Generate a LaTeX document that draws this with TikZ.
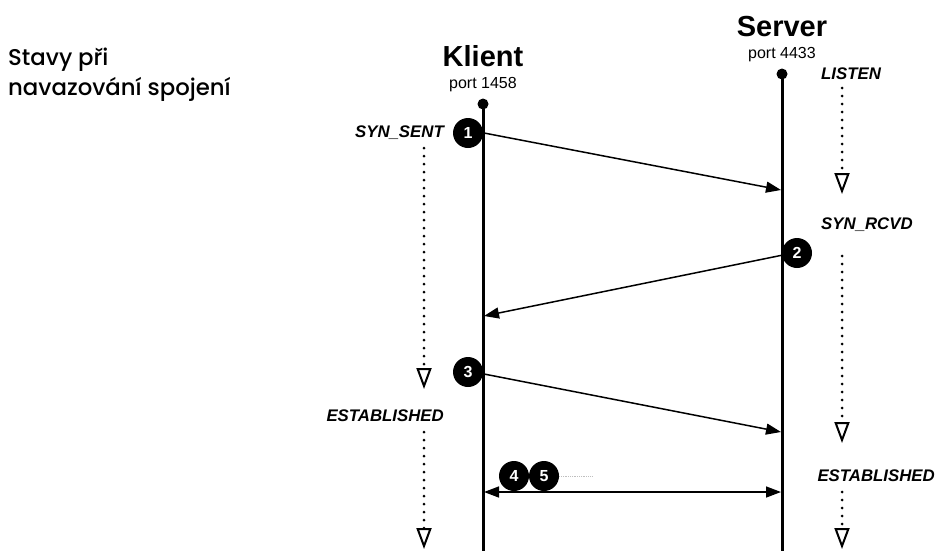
\documentclass[tikz,border=0pt]{standalone}
\usepackage{fontspec}
\setmainfont{Liberation Sans}
\newfontfamily\titlefont{Poppins}[UprightFont=* Medium]
\usetikzlibrary{
    arrows.meta,
    positioning
}

\begin{document}
\begin{tikzpicture}[
        x=1pt, y=-1pt,
        party/.style={
            font=\bfseries\fontsize{29}{30}\selectfont,
            inner sep=0pt
        },
        port/.style={
            font=\fontsize{16}{17}\selectfont,
            inner sep=0pt
        },
        state/.style={
            font=\bfseries\itshape\fontsize{16.8}{18}\selectfont,
            inner sep=0pt
        },
        badge/.style={
            circle,
            fill=black,
            text=white,
            minimum size=30pt,
            inner sep=0pt,
            font=\bfseries\fontsize{16}{16}\selectfont
        },
        lifeline/.style={
            line width=3pt
        },
        msg/.style={
            line width=1.5pt,
            -{Triangle[length=15pt,width=11pt]}
        },
        flow/.style={
            line width=3pt,
            line cap=round,
            dash pattern=on 0pt off 8pt,
            -{Triangle[open,length=21pt,width=15pt,line width=2pt,fill=white]}
        }
    ]

    \useasboundingbox (0,0) rectangle (936,550);

    % heading
    \node[anchor=north west, align=left, inner sep=0pt,
          font=\titlefont\fontsize{22.8}{30}\selectfont] (title) at (8,48)
        {Stavy při\\navazování spojení};

    % the two parties
    \node[party] (klient) at (483,56) {Klient};
    \node[port, below=10pt of klient] (kport) {port 1458};
    \node[party] (server) at (782,27) {Server};
    \node[port, below=10pt of server] (sport) {port 4433};

    \fill (483,104) circle (5.5pt) coordinate (ktop);
    \fill (782,74) circle (5.5pt) coordinate (stop);
    \coordinate (kbot) at (483,551);
    \coordinate (sbot) at (782,551);
    \draw[lifeline] (ktop) -- (kbot);
    \draw[lifeline] (stop) -- (sbot);

    % states
    \node[state, anchor=east] (synsent) at (444,133) {SYN\_SENT};
    \node[state, anchor=east] (kest) at (444,416) {ESTABLISHED};
    \node[state, anchor=west] (listen) at (821,74) {LISTEN};
    \node[state, anchor=west] (synrcvd) at (821,225) {SYN\_RCVD};
    \node[state, anchor=east] (sest) at (935,476) {ESTABLISHED};

    \coordinate (kf1) at (424,148);
    \coordinate (kf2) at (424,389);
    \coordinate (kf3) at (424,432);
    \coordinate (kf4) at (424,549);
    \coordinate (sf1) at (842,88);
    \coordinate (sf2) at (842,194);
    \coordinate (sf3) at (842,256);
    \coordinate (sf4) at (842,443);
    \coordinate (sf5) at (842,492);
    \coordinate (sf6) at (842,549);

    \draw[flow] (kf1) -- (kf2);
    \draw[flow] (kf3) -- (kf4);
    \draw[flow] (sf1) -- (sf2);
    \draw[flow] (sf3) -- (sf4);
    \draw[flow] (sf5) -- (sf6);

    % segments
    \node[badge] (b1) at (468,133) {1};
    \node[badge] (b2) at (797,253) {2};
    \node[badge] (b3) at (468,372) {3};
    \node[badge] (b4) at (514,476) {4};
    \node[badge] (b5) at (544,476) {5};

    \coordinate (k1) at (484,133);
    \coordinate (s1) at (781,190);
    \coordinate (s2) at (783,255);
    \coordinate (k2) at (484,316);
    \coordinate (k3) at (484,374);
    \coordinate (s3) at (781,432);
    \coordinate (k4) at (484,492);
    \coordinate (s4) at (781,492);
    \coordinate (dots) at (592,476);

    \draw[msg] (k1) -- (s1);
    \draw[msg] (s2) -- (k2);
    \draw[msg] (k3) -- (s3);
    \draw[msg, {Triangle[length=15pt,width=11pt]}-{Triangle[length=15pt,width=11pt]}] (k4) -- (s4);
    \draw[black!25, densely dotted, line width=0.8pt] (b5.east) -- (dots);

\end{tikzpicture}
\end{document}
